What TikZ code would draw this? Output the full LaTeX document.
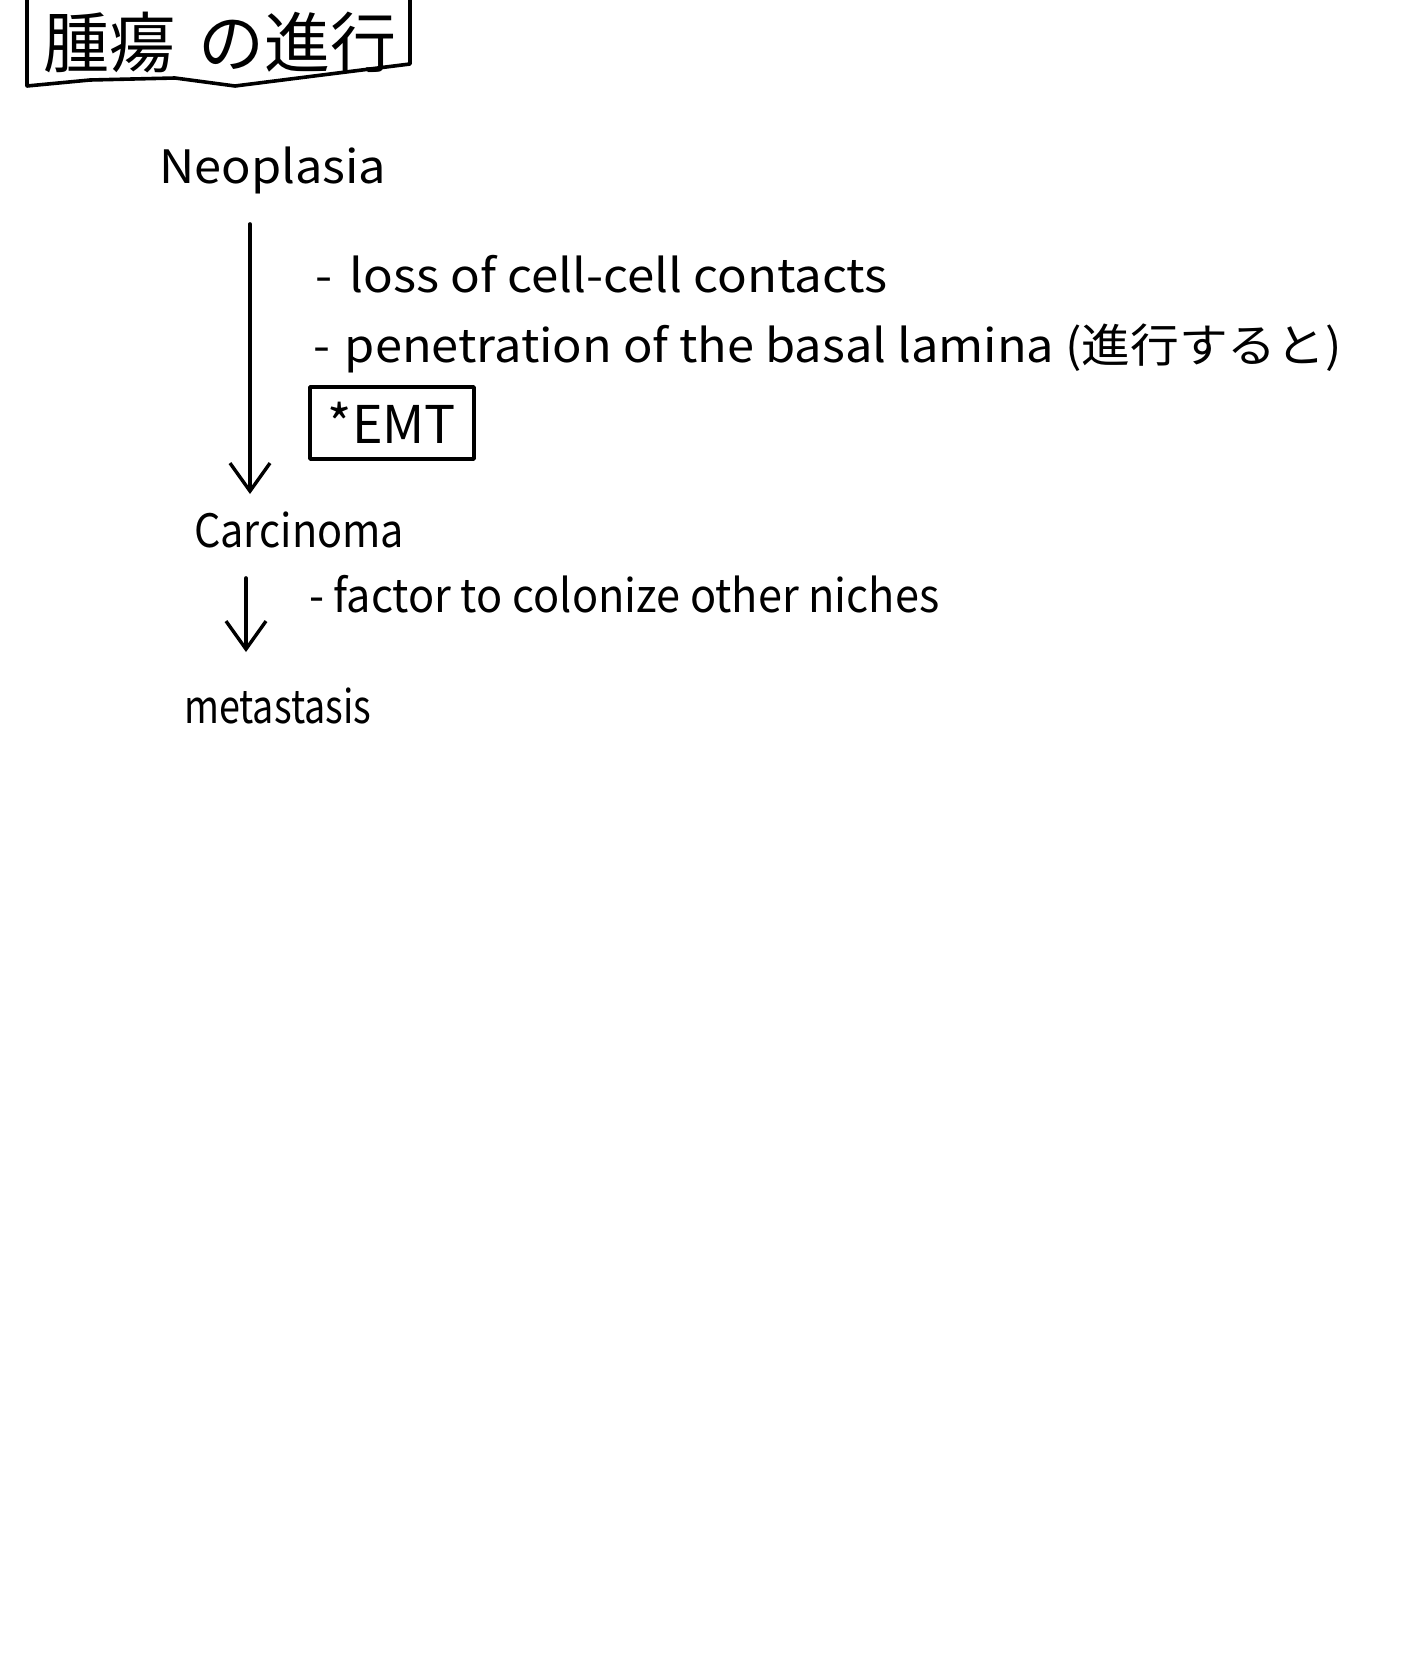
\documentclass[tikz,border=0pt]{standalone}
\usepackage{fontspec}
\usepackage{graphicx}
\setmainfont{Noto Sans CJK JP}
\usetikzlibrary{arrows.meta}
\newcommand{\hsc}[2]{\scalebox{#1}[1]{#2}}
\begin{document}
\begin{tikzpicture}[x=1pt,y=-1pt,
  ink/.style={line width=3.6pt,line join=round,line cap=round},
  txt/.style={anchor=west,inner sep=0pt,font=\fontsize{46}{50}\selectfont},
  flow/.style={ink,-{Straight Barb[length=28pt,width=40pt,line width=3.4pt]}}]
\useasboundingbox[fill=white] (0,0) rectangle (1404,1665);
% title box
\draw[ink] (27,-5) -- (27,86) -- (90,80) -- (175,78) -- (235,86) -- (330,74) -- (410,64) -- (410,-5);
\node[anchor=center,inner sep=0pt,font=\fontsize{66}{68}\selectfont] (title) at (220,42) {腫瘍\hspace{24pt}の進行};
\node[txt] (neo) at (159,170) {\hsc{1.06}{Neoplasia}};
\node[txt] (l1) at (315,274) {\hsc{1.07}{-\hspace{16pt}loss of cell-cell contacts}};
\node[txt] (l2) at (313,348) {\hsc{1.06}{-\hspace{14pt}penetration of the basal lamina (進行すると)}};
\node[txt,anchor=center,draw,ink,minimum width=164pt,minimum height=72pt,font=\fontsize{52}{54}\selectfont] (emt) at (392,423) {*EMT};
\node[txt] (car) at (194,530) {\hsc{0.9}{Carcinoma}};
\node[txt] (l3) at (309,594) {\hsc{0.94}{-\hspace{10pt}factor to colonize other niches}};
\node[txt] (met) at (184,706) {\hsc{0.82}{metastasis}};
\coordinate (a1s) at (250,224);
\coordinate (a1e) at (250,494);
\coordinate (a2s) at (246,578);
\coordinate (a2e) at (246,652);
\draw[flow] (a1s) -- (a1e);
\draw[flow] (a2s) -- (a2e);
\end{tikzpicture}
\end{document}
